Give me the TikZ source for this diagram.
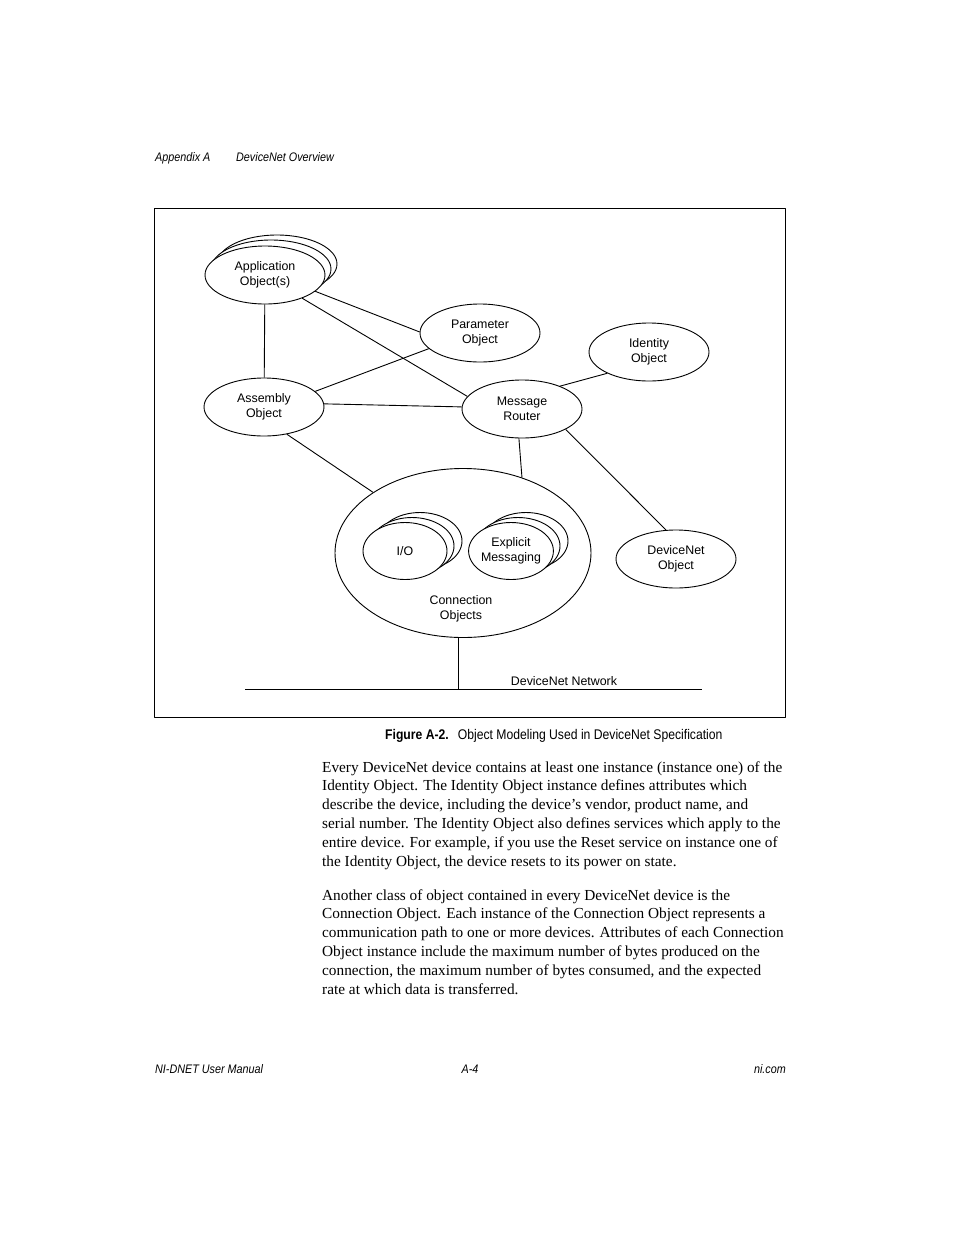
\documentclass[tikz,border=0pt]{standalone}
\usepackage{fontspec}
\setmainfont{Liberation Serif}
\newfontfamily\helv{Liberation Sans}
\newfontfamily\helvcond[FakeStretch=0.87]{Liberation Sans}
\usetikzlibrary{shapes.geometric}

\tikzset{
  obj/.style={ellipse, draw, fill=white, line width=0.9pt, inner sep=0pt,
    minimum width=120pt, minimum height=58pt, align=center,
    font=\helv\fontsize{12.4}{15}\selectfont},
  conn/.style={obj, minimum width=84pt, minimum height=57pt},
  link/.style={line width=0.9pt},
  lbl/.style={inner sep=0pt, align=center, font=\helv\fontsize{12.4}{15}\selectfont},
  page/.style={inner sep=0pt, anchor=base west, font=\helvcond\itshape\fontsize{12.4}{15}\selectfont},
  body/.style={inner sep=0pt, anchor=base west, font=\fontsize{15.3}{18.8}\selectfont}
}

\begin{document}
\begin{tikzpicture}[x=1pt, y=-1pt, line join=round]
	\useasboundingbox (0,0) rectangle (954,1235);
	% running head
	\node[page] (hda) at (155,161) {Appendix A};
	\node[page] (hdb) at (236,161) {DeviceNet Overview};
	% figure frame
	\draw[line width=0.9pt] (154,208) rectangle (785,717);
	% connection objects
	\node[obj, minimum width=256pt, minimum height=169pt] (con) at (463,553) {};
	\node[lbl] (conlbl) at (461,609) {Connection\\Objects};
	\node[conn] (io3) at (420,541) {};
	\node[conn] (io2) at (412,546) {};
	\node[conn] (io) at (405,551) {I/O};
	\node[conn] (ex3) at (526,541) {};
	\node[conn] (ex2) at (518,546) {};
	\node[conn] (ex) at (511,551) {Explicit\\Messaging};
	% objects
	\node[obj] (app3) at (277,264) {};
	\node[obj] (app2) at (271,269) {};
	\node[obj] (app) at (265,275) {Application\\Object(s)};
	\node[obj] (par) at (480,333) {Parameter\\Object};
	\node[obj] (idn) at (649,352) {Identity\\Object};
	\node[obj] (asm) at (264,407) {Assembly\\Object};
	\node[obj] (mr) at (522,409) {Message\\Router};
	\node[obj] (dno) at (676,559) {DeviceNet\\Object};
	% links
	\draw[link] (app) -- (asm);
	\draw[link] (app.-18) -- (par.179);
	\draw[link] (app.-32) -- (mr.167);
	\draw[link] (par.-163) -- (asm.17);
	\draw[link] (asm.3) -- (mr.178);
	\draw[link] (asm.-50) -- (con.146);
	\draw[link] (mr.-96) -- (con.52);
	\draw[link] (mr.-25) -- (dno.109);
	\draw[link] (idn.207) -- (mr.31);
	% network
	\coordinate (netL) at (245,689);
	\coordinate (netR) at (702,689);
	\draw[link] (netL) -- (netR);
	\draw[link] (con.267) -- (con.267 |- netL);
	\node[lbl, anchor=base] (netlbl) at (564,685) {DeviceNet Network};
	% caption
	\node[page, font=\helvcond\fontsize{14}{16}\selectfont] (cap) at (385,739)
		{\bfseries Figure A-2.\hspace{9pt}\mdseries Object Modeling Used in DeviceNet Specification};
	% text
	\foreach \ln [count=\i from 0] in {
		{Every DeviceNet device contains at least one instance (instance one) of the},
		{Identity Object. The Identity Object instance defines attributes which},
		{describe the device, including the device’s vendor, product name, and},
		{serial number. The Identity Object also defines services which apply to the},
		{entire device. For example, if you use the Reset service on instance one of},
		{the Identity Object, the device resets to its power on state.}}
	\node[body] (pa\i) at (322,772+18.8*\i) {\ln};
	\foreach \ln [count=\i from 0] in {
		{Another class of object contained in every DeviceNet device is the},
		{Connection Object. Each instance of the Connection Object represents a},
		{communication path to one or more devices. Attributes of each Connection},
		{Object instance include the maximum number of bytes produced on the},
		{connection, the maximum number of bytes consumed, and the expected},
		{rate at which data is transferred.}}
	\node[body] (pb\i) at (322,900+18.8*\i) {\ln};
	% running foot
	\node[page] (ft) at (155,1073) {NI-DNET User Manual};
	\node[page, anchor=base] (pg) at (470,1073) {A-4};
	\node[page, anchor=base east] (url) at (786,1073) {ni.com};
\end{tikzpicture}
\end{document}
